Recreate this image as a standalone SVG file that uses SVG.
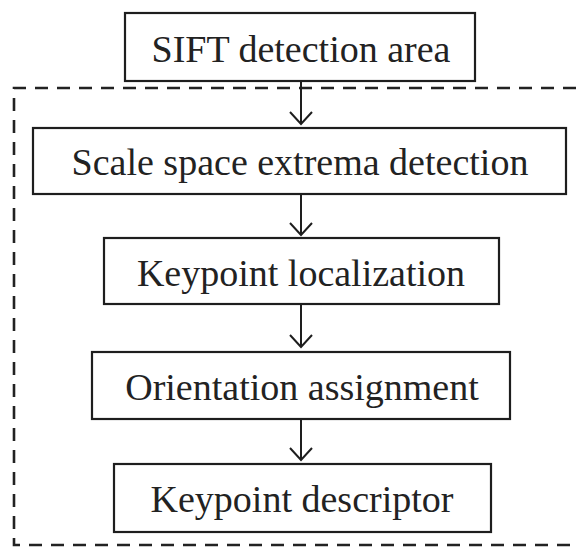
<svg xmlns="http://www.w3.org/2000/svg" width="576" height="547" viewBox="0 0 576 547">
  <style>
    .box { fill: #ffffff; stroke: #1e1e1e; stroke-width: 2.2; }
    .lbl { font-family: "Liberation Serif", "Times New Roman", serif; font-size: 38px; fill: #222222; text-anchor: middle; }
    .conn { fill: none; stroke: #1e1e1e; stroke-width: 2; }
    .frame { fill: none; stroke: #222222; stroke-width: 2.6; stroke-dasharray: 13 9; }
  </style>
  <rect width="576" height="547" fill="#ffffff"/>

  <path id="frame" class="frame" d="M576,88 H14 V545 H576"/>

  <g id="connectors">
    <line class="conn" x1="301" y1="81" x2="301" y2="124"/>
    <path class="conn" d="M290,112 L301,124 L312,112"/>
    <line class="conn" x1="301" y1="194" x2="301" y2="235"/>
    <path class="conn" d="M290,223 L301,235 L312,223"/>
    <line class="conn" x1="301" y1="304" x2="301" y2="347"/>
    <path class="conn" d="M290,335 L301,347 L312,335"/>
    <line class="conn" x1="301" y1="419" x2="301" y2="460"/>
    <path class="conn" d="M290,448 L301,460 L312,448"/>
  </g>

  <g id="sift-detection-area">
    <rect class="box" x="125" y="13" width="350" height="68"/>
    <text class="lbl" x="301" y="62">SIFT detection area</text>
  </g>
  <g id="scale-space-extrema-detection">
    <rect class="box" x="33" y="128" width="533" height="66"/>
    <text class="lbl" x="300" y="175">Scale space extrema detection</text>
  </g>
  <g id="keypoint-localization">
    <rect class="box" x="104" y="238" width="395" height="66"/>
    <text class="lbl" x="301" y="286">Keypoint localization</text>
  </g>
  <g id="orientation-assignment">
    <rect class="box" x="92" y="352" width="418" height="67"/>
    <text class="lbl" x="302" y="400">Orientation assignment</text>
  </g>
  <g id="keypoint-descriptor">
    <rect class="box" x="114" y="464" width="377" height="68"/>
    <text class="lbl" x="302" y="512">Keypoint descriptor</text>
  </g>
</svg>
